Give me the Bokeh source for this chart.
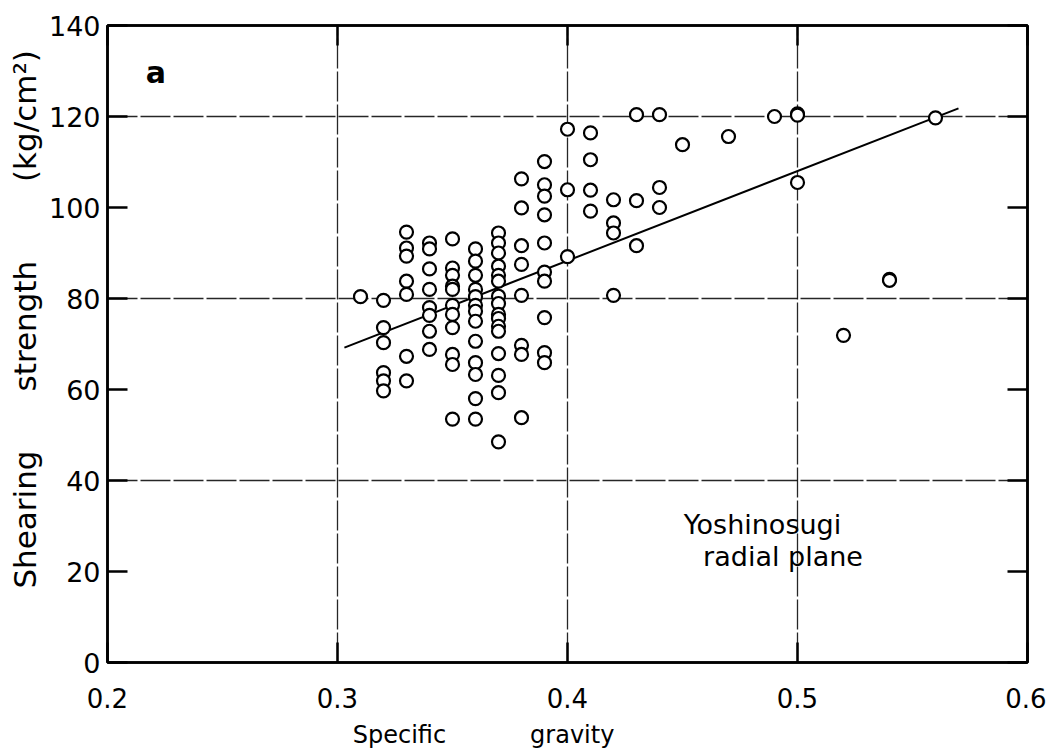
from bokeh.plotting import figure
from bokeh.models import Range1d, LinearAxis, FixedTicker, Label, Grid, CustomJSTickFormatter
from bokeh.embed import file_html
from bokeh.resources import INLINE

# ---- data ----
specific_gravity = [
    0.31,
    0.32, 0.32, 0.32, 0.32, 0.32, 0.32,
    0.33, 0.33, 0.33, 0.33, 0.33, 0.33, 0.33,
    0.34, 0.34, 0.34, 0.34, 0.34, 0.34, 0.34, 0.34,
    0.35, 0.35, 0.35, 0.35, 0.35, 0.35, 0.35, 0.35, 0.35, 0.35, 0.35,
    0.36, 0.36, 0.36, 0.36, 0.36, 0.36, 0.36, 0.36, 0.36, 0.36, 0.36, 0.36, 0.36,
    0.37, 0.37, 0.37, 0.37, 0.37, 0.37, 0.37, 0.37, 0.37, 0.37, 0.37, 0.37, 0.37, 0.37, 0.37, 0.37,
    0.38, 0.38, 0.38, 0.38, 0.38, 0.38, 0.38, 0.38,
    0.39, 0.39, 0.39, 0.39, 0.39, 0.39, 0.39, 0.39, 0.39, 0.39,
    0.40, 0.40, 0.40,
    0.41, 0.41, 0.41, 0.41,
    0.42, 0.42, 0.42, 0.42,
    0.43, 0.43, 0.43,
    0.44, 0.44, 0.44,
    0.45,
    0.47,
    0.49,
    0.50, 0.50, 0.50,
    0.52,
    0.54, 0.54,
    0.56,
]
shearing_strength = [
    80.4,
    79.6, 73.6, 70.3, 63.7, 61.9, 59.7,
    94.6, 91.1, 89.3, 83.8, 80.9, 67.3, 61.9,
    92.2, 90.9, 86.5, 82.0, 78.0, 76.3, 72.8, 68.8,
    93.1, 86.7, 85.1, 82.7, 82.0, 78.5, 76.5, 73.6, 67.7, 65.5, 53.5,
    90.9, 88.2, 85.1, 82.0, 80.4, 78.5, 77.2, 75.0, 70.6, 65.9, 63.3, 58.0, 53.5,
    94.4, 92.2, 90.0, 87.1, 85.1, 83.8, 80.5, 78.9, 76.5, 75.6, 73.9, 72.8, 67.9, 63.1, 59.3, 48.5,
    106.3, 99.9, 91.6, 87.5, 80.7, 69.7, 67.7, 53.8,
    110.1, 105.0, 102.5, 98.4, 92.2, 85.8, 83.8, 75.8, 68.1, 65.9,
    117.2, 103.9, 89.2,
    116.4, 110.5, 103.8, 99.2,
    101.7, 96.6, 94.4, 80.7,
    120.4, 101.5, 91.6,
    120.4, 104.4, 100.0,
    113.8,
    115.6,
    120.0,
    120.6, 120.3, 105.5,
    71.9,
    84.2, 84.0,
    119.7,
]
# regression line end points
fit_gravity = [0.303, 0.570]
fit_strength = [69.2, 121.8]

x_ticks = [0.2, 0.3, 0.4, 0.5, 0.6]
y_ticks = [0, 20, 40, 60, 80, 100, 120, 140]
x_grid = [0.3, 0.4, 0.5]
y_grid = [40, 80, 120]

FONT = "DejaVu Sans"
NB = "\u00a0"

p = figure(width=1046, height=751, output_backend="svg", toolbar_location=None,
           x_range=Range1d(0.2, 0.6), y_range=Range1d(0, 140),
           x_axis_type=None, y_axis_type=None,
           min_border_left=107, min_border_right=19, min_border_top=25,
           min_border_bottom=87)
p.background_fill_color = "white"
p.border_fill_color = "white"
p.outline_line_color = "black"
p.outline_line_width = 2.5

bottom_axis = LinearAxis(ticker=FixedTicker(ticks=x_ticks))
left_axis = LinearAxis(ticker=FixedTicker(ticks=y_ticks))
top_axis = LinearAxis(ticker=FixedTicker(ticks=x_ticks))
right_axis = LinearAxis(ticker=FixedTicker(ticks=y_ticks))

for ax in [bottom_axis, left_axis, top_axis, right_axis]:
    ax.major_tick_in = 20
    ax.major_tick_out = 0
    ax.minor_tick_in = 0
    ax.minor_tick_out = 0
    ax.axis_line_width = 2.5
    ax.axis_line_color = "black"
    ax.major_tick_line_width = 2.5
    ax.major_tick_line_color = "black"
    ax.major_label_text_font = FONT
    ax.major_label_text_color = "black"
    ax.axis_label_text_font = FONT
    ax.axis_label_text_font_style = "normal"
    ax.axis_label_text_color = "black"

for ax in [top_axis, right_axis]:
    ax.formatter = CustomJSTickFormatter(code="return ''")
    ax.major_label_standoff = 0
    ax.major_label_text_font_size = "1px"

bottom_axis.major_label_text_font_size = "26px"
bottom_axis.major_label_standoff = 25
left_axis.major_label_text_font_size = "27px"
left_axis.major_label_standoff = 7

bottom_axis.axis_label = "Specific" + NB * 11 + "gravity" + NB * 22
bottom_axis.axis_label_text_font_size = "24px"
bottom_axis.axis_label_standoff = 10

left_axis.axis_label = (NB * 5 + "Shearing" + NB * 6 + "strength" + NB * 8 + "(kg/cm\u00b2)")
left_axis.axis_label_text_font_size = "31px"
left_axis.axis_label_standoff = 3

p.add_layout(bottom_axis, "below")
p.add_layout(left_axis, "left")
p.add_layout(top_axis, "above")
p.add_layout(right_axis, "right")

xg = Grid(dimension=0, ticker=FixedTicker(ticks=x_grid))
yg = Grid(dimension=1, ticker=FixedTicker(ticks=y_grid))
for g in [xg, yg]:
    g.grid_line_color = "black"
    g.grid_line_width = 1.3
    g.grid_line_dash = "30 3"
    g.grid_line_alpha = 0.85
    p.add_layout(g)

p.line(fit_gravity, fit_strength, line_color="black", line_width=2)
p.scatter(specific_gravity, shearing_strength, marker="circle", size=13,
          fill_color="white", line_color="black", line_width=2.2)

p.add_layout(Label(x=0.221, y=129.6, text="a", text_align="center",
                   text_baseline="middle", text_font=FONT,
                   text_font_style="bold", text_font_size="30px",
                   text_color="black"))
p.add_layout(Label(x=0.519, y=30.4, text="Yoshinosugi", text_align="right",
                   text_baseline="middle", text_font=FONT,
                   text_font_size="27px", text_color="black"))
p.add_layout(Label(x=0.4937, y=23.2, text="radial plane", text_align="center",
                   text_baseline="middle", text_font=FONT,
                   text_font_size="27px", text_color="black"))

open("out.html", "w").write(file_html(p, INLINE))
